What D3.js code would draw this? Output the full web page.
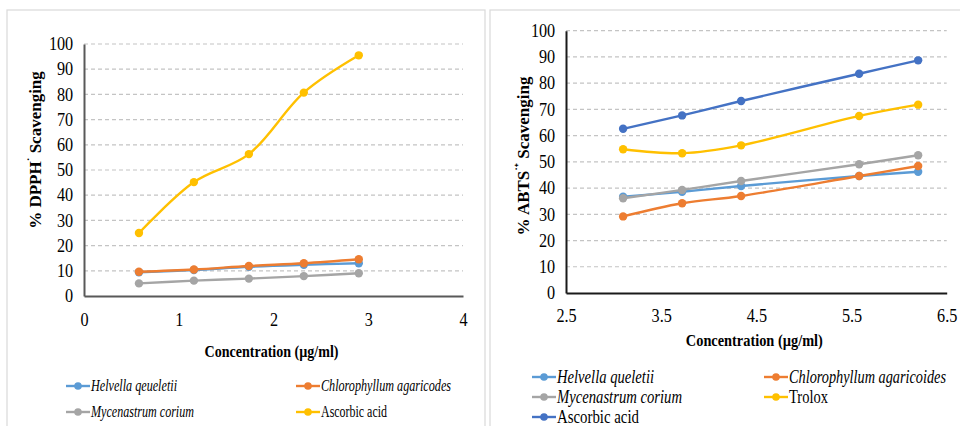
<!DOCTYPE html>
<html>
<head>
<meta charset="utf-8">
<script src="https://cdn.jsdelivr.net/npm/d3@7"></script>
<style>
  body { margin: 0; background: #fff; }
  svg { display: block; }
</style>
</head>
<body>
<svg id="chart" width="960" height="426"></svg>
<script>
// DPPH panel
const dpphConc = [0.58, 1.16, 1.74, 2.32, 2.9];
const dpphHelvella = [9.4, 10.3, 11.6, 12.4, 13.0];
const dpphChloro = [9.6, 10.5, 11.9, 13.0, 14.6];
const dpphMycen = [5.0, 6.1, 6.9, 7.9, 9.0];
const dpphAscorbic = [25.0, 45.2, 56.3, 80.7, 95.5];
const dpphXTicks = [0, 1, 2, 3, 4];

// ABTS panel
const abtsConc = [3.1, 3.72, 4.34, 5.58, 6.2];
const abtsHelvella = [36.7, 38.6, 40.8, 44.6, 46.2];
const abtsChloro = [29.2, 34.2, 37.0, 44.6, 48.4];
const abtsMycen = [36.1, 39.3, 42.7, 49.1, 52.5];
const abtsTrolox = [54.8, 53.3, 56.3, 67.5, 71.8];
const abtsAscorbic = [62.6, 67.7, 73.2, 83.6, 88.7];
const abtsXTicks = [2.5, 3.5, 4.5, 5.5, 6.5];

const yTicks = d3.range(0, 101, 10);
const FONT = '"Liberation Serif"';

const svg = d3.select('#chart');

const drawPanel = (opt) => {
  const g = svg.append('g');

  g.append('rect')
    .attr('x', opt.frame[0]).attr('y', opt.frame[1])
    .attr('width', opt.frame[2]).attr('height', opt.frame[3])
    .attr('fill', '#fff').attr('stroke', '#d9d9d9').attr('stroke-width', 1.2);

  const x = d3.scaleLinear().domain(opt.xDomain).range([opt.left, opt.right]);
  const y = d3.scaleLinear().domain([0, 100]).range([opt.bottom, opt.top]);

  // dashed gridlines
  g.append('g').selectAll('line')
    .data(yTicks.filter(d => d > 0))
    .join('line')
    .attr('x1', opt.left).attr('x2', opt.right)
    .attr('y1', d => y(d)).attr('y2', d => y(d))
    .attr('stroke', '#c4c4c4').attr('stroke-width', 1.2)
    .attr('stroke-dasharray', '4,3');

  const yAxis = g.append('g')
    .attr('transform', `translate(${opt.left},0)`)
    .call(d3.axisLeft(y).tickValues(yTicks).tickSize(0).tickPadding(12));
  yAxis.attr('font-family', null).attr('font-size', null);
  yAxis.select('.domain').attr('stroke', opt.axisColor).attr('stroke-width', 2);
  yAxis.selectAll('text')
    .style('font-family', FONT).style('font-size', '18px')
    .attr('fill', '#000')
    .attr('transform', 'scale(0.9,1)');

  const xAxis = g.append('g')
    .attr('transform', `translate(0,${opt.bottom})`)
    .call(d3.axisBottom(x).tickValues(opt.xTicks).tickSize(0).tickPadding(opt.xPad)
      .tickFormat(d3.format('')));
  xAxis.attr('font-family', null).attr('font-size', null);
  xAxis.select('.domain').attr('stroke', opt.axisColor).attr('stroke-width', 2);
  xAxis.selectAll('text')
    .style('font-family', FONT).style('font-size', '18px')
    .attr('fill', '#000')
    .attr('transform', 'scale(0.9,1)');

  // axis titles
  g.append('text')
    .attr('x', (opt.left + opt.right) / 2 - 2)
    .attr('y', opt.xTitleY)
    .attr('text-anchor', 'middle')
    .style('font-family', FONT).style('font-size', '17px').style('font-weight', 'bold')
    .attr('textLength', opt.xTitleLen).attr('lengthAdjust', 'spacingAndGlyphs')
    .text('Concentration  (\u00b5g/ml)');

  const yt = g.append('text')
    .attr('transform', `translate(${opt.yTitleX},${opt.yTitleY}) rotate(-90)`)
    .attr('text-anchor', 'middle')
    .style('font-family', FONT).style('font-size', '17px').style('font-weight', 'bold');
  yt.append('tspan').text(opt.yTitle[0]);
  yt.append('tspan').style('font-size', '11px').attr('dy', -6).text(opt.yTitle[1]);
  yt.append('tspan').attr('dy', 6).text(opt.yTitle[2]);

  // series
  const line = d3.line()
    .x((d, i) => x(opt.conc[i]))
    .y(d => y(d))
    .curve(d3.curveCatmullRom.alpha(0.5));

  opt.series.forEach(s => {
    const sg = g.append('g');
    sg.append('path')
      .attr('d', line(s.values))
      .attr('fill', 'none').attr('stroke', s.color).attr('stroke-width', 2.4);
    sg.selectAll('circle')
      .data(s.values)
      .join('circle')
      .attr('cx', (d, i) => x(opt.conc[i]))
      .attr('cy', d => y(d))
      .attr('r', 4.2)
      .attr('fill', s.color);
  });

  // legend
  opt.series.forEach((s, i) => {
    const [lx, ly] = opt.legendPos[i];
    const lg = g.append('g').attr('transform', `translate(${lx},${ly})`);
    lg.append('line').attr('x1', 0).attr('x2', 24)
      .attr('stroke', s.color).attr('stroke-width', 2.4);
    lg.append('circle').attr('cx', 12).attr('r', 3.8).attr('fill', s.color);
    lg.append('text')
      .attr('x', 25).attr('y', opt.legendFont * 0.33)
      .style('font-family', FONT).style('font-size', opt.legendFont + 'px')
      .style('font-style', s.italic ? 'italic' : 'normal')
      .attr('textLength', s.len).attr('lengthAdjust', 'spacingAndGlyphs')
      .text(s.name);
  });
};

drawPanel({
  frame: [7, 10, 478, 440],
  left: 84, right: 463, top: 44, bottom: 296,
  xDomain: [0, 4], xTicks: dpphXTicks, xPad: 17,
  axisColor: '#595959',
  xTitleY: 357, xTitleLen: 134,
  yTitle: ['% DPPH', '\u02d9', ' Scavenging'],
  yTitleX: 41, yTitleY: 150,
  conc: dpphConc,
  legendFont: 16,
  legendPos: [[66, 386], [296, 386], [66, 412], [296, 412]],
  series: [
    { name: 'Helvella qeueletii', values: dpphHelvella, color: '#5b9bd5', italic: true, len: 86 },
    { name: 'Chlorophyllum agaricodes', values: dpphChloro, color: '#ed7d31', italic: true, len: 130 },
    { name: 'Mycenastrum corium', values: dpphMycen, color: '#a5a5a5', italic: true, len: 103 },
    { name: 'Ascorbic acid', values: dpphAscorbic, color: '#ffc000', italic: false, len: 66 }
  ]
});

drawPanel({
  frame: [490, 10, 480, 440],
  left: 566, right: 946.7, top: 30.7, bottom: 293,
  xDomain: [2.5, 6.5], xTicks: abtsXTicks, xPad: 16,
  axisColor: '#1a1a1a',
  xTitleY: 346, xTitleLen: 137,
  yTitle: ['% ABTS', '\u02d9\u207a', ' Scavenging'],
  yTitleX: 529, yTitleY: 156,
  conc: abtsConc,
  legendFont: 18,
  legendPos: [[532, 377], [764, 377], [532, 397], [764, 397], [532, 417]],
  series: [
    { name: 'Helvella queletii', values: abtsHelvella, color: '#5b9bd5', italic: true, len: 97 },
    { name: 'Chlorophyllum agaricoides', values: abtsChloro, color: '#ed7d31', italic: true, len: 157 },
    { name: 'Mycenastrum corium', values: abtsMycen, color: '#a5a5a5', italic: true, len: 125 },
    { name: 'Trolox', values: abtsTrolox, color: '#ffc000', italic: false, len: 39 },
    { name: 'Ascorbic acid', values: abtsAscorbic, color: '#4472c4', italic: false, len: 82 }
  ]
});
</script>
</body>
</html>
